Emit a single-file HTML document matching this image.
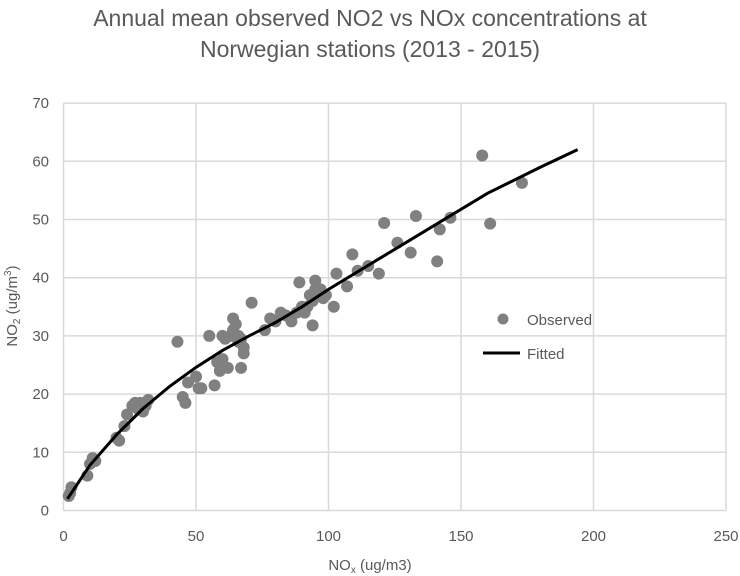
<!DOCTYPE html>
<html><head><meta charset="utf-8"><style>
body{margin:0;background:#fff;}
svg{display:block;font-family:"Liberation Sans",sans-serif;}
</style></head><body>
<svg id="chart" width="740" height="576">
<text x="370" y="26" text-anchor="middle" font-size="23" fill="#595959">Annual mean observed NO2 vs NOx concentrations at</text>
<text x="370" y="57" text-anchor="middle" font-size="23" fill="#595959">Norwegian stations (2013 - 2015)</text>
<g id="grid"></g><g id="ticks"></g><g id="marks"></g>
<text x="370" y="570" text-anchor="middle" font-size="15" fill="#595959">NO<tspan font-size="10" dy="3">x</tspan><tspan dy="-3"> (ug/m3)</tspan></text>
<text transform="translate(17,306) rotate(-90)" text-anchor="middle" font-size="15" fill="#595959">NO<tspan font-size="10" dy="3">2</tspan><tspan dy="-3"> (ug/m</tspan><tspan font-size="10" dy="-6">3</tspan><tspan dy="6">)</tspan></text>
<g>
<circle cx="503" cy="319" r="5.5" fill="#808080"/>
<text x="527" y="325" font-size="15" fill="#595959">Observed</text>
<line x1="483" y1="353" x2="520" y2="353" stroke="#000" stroke-width="3"/>
<text x="527" y="359" font-size="15" fill="#595959">Fitted</text>
</g>
</svg>
<script>
const xTicks=[0,50,100,150,200,250];
const yTicks=[0,10,20,30,40,50,60,70];
const obsX=[2,3,2.5,9,10,11,12,20,21,23,24,26,27,28,29,30,31,32,43,45,46,47,50,51,52,55,57,58,59,60,60,61,62,63,64,64,65,66,66,67,67,68,68,71,76,78,80,82,84,86,88,89,90,91,92,93,94,95,94,95,96,97,98,99,102,103,107,109,111,115,119,121,126,131,133,141,142,146,158,161,173];
const obsY=[2.5,4,3,6,8,9,8.5,12.5,12,14.5,16.5,18,18.5,17.5,18.5,17,18,19,29,19.5,18.5,22,23,21,21,30,21.5,25.5,24,26,30,29.5,24.5,30,33,31,32,29,30,24.5,29.5,28,27,35.7,31,33,32.5,34,33.5,32.5,34,39.2,35,34,35,37,36,38,31.8,39.5,37,38,36.5,37,35,40.7,38.5,44,41.2,42,40.7,49.4,46,44.3,50.6,42.8,48.3,50.3,61,49.3,56.3];
const fitX=[1.5,10,20,30,40,50,60,70,80,90,100,120,140,160,180,194];
const fitY=[2,7.8,13,17.5,21.3,24.6,27.5,30,32.3,35,38,43.5,49,54.5,59,62];
const X=v=>63.5+v*2.65, Y=v=>510.5-v*5.82;
const ns="http://www.w3.org/2000/svg";
function mk(t,a,p){const e=document.createElementNS(ns,t);for(const k in a)e.setAttribute(k,a[k]);p.appendChild(e);return e;}
const g=document.getElementById('grid'),tk=document.getElementById('ticks'),m=document.getElementById('marks');
xTicks.forEach(v=>{const l=mk('line',{x1:X(v),x2:X(v),y1:Y(70),y2:Y(0),stroke:'#d9d9d9','stroke-width':v===0?1.5:1.5},g);


const t=mk('text',{x:X(v),y:541,'text-anchor':'middle','font-size':15,fill:'#595959'},tk);t.textContent=v;

});
yTicks.forEach(v=>{const l=mk('line',{x1:X(0),x2:X(250),y1:Y(v),y2:Y(v),stroke:'#d9d9d9','stroke-width':1.5},g);


const t=mk('text',{x:49,y:Y(v)+5,'text-anchor':'end','font-size':15,fill:'#595959'},tk);t.textContent=v;

});
obsX.forEach((v,i)=>{const c=mk('circle',{cx:X(v),cy:Y(obsY[i]),r:6,fill:'#808080'},m);

});
const p=mk('polyline',{points:fitX.map((v,i)=>X(v)+','+Y(fitY[i])).join(' '),fill:'none',stroke:'#000','stroke-width':3},m);


</script>
</body></html>
